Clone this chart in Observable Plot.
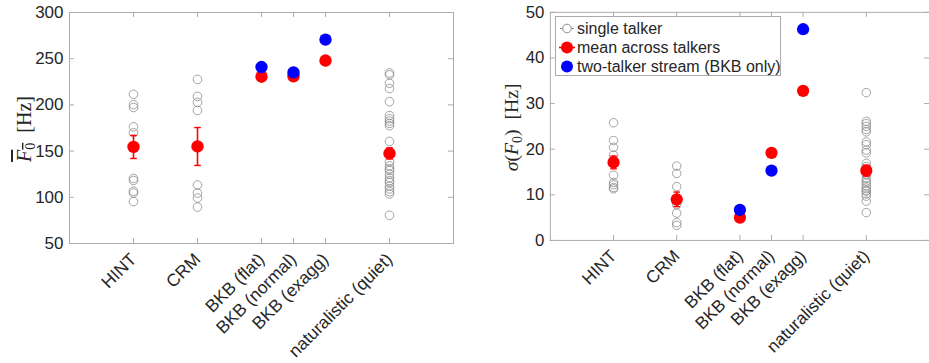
<!DOCTYPE html>
<html>
<head>
<meta charset="utf-8">
<script src="https://cdn.jsdelivr.net/npm/d3@7"></script>
<script src="https://cdn.jsdelivr.net/npm/@observablehq/plot@0.6"></script>
<style>
  body { margin: 0; background: #fff; }
  #fig { position: relative; width: 929px; height: 363px; overflow: hidden;
         font-family: "Liberation Sans", Arial, Helvetica, sans-serif; }
  #left { position: absolute; left: 0; top: 0; }
  #right { position: absolute; left: 460px; top: 0; }
  #legend { position: absolute; left: 555px; top: 16px; width: 226px; height: 60px;
            border: 1px solid #ababab; background: #fff; box-sizing: border-box; }
  .lrow { position: absolute; left: 0; height: 19px; width: 224px; }
  .lrow svg { position: absolute; left: 0; top: 0; }
  .lrow span { position: absolute; left: 21px; top: 0; line-height: 19px;
               font-size: 16px; color: #262626; white-space: nowrap; }
</style>
</head>
<body>
<div id="fig">
  <div id="left"></div>
  <div id="right"></div>
  <div id="legend"></div>
</div>
<script>
// Stimulus sets and their x positions on the category axis
const categories = ["HINT", "CRM", "BKB (flat)", "BKB (normal)", "BKB (exagg)", "naturalistic (quiet)"];
const categoryX = [1, 2, 3, 3.5, 4, 5];

// Mean F0 of each single talker (Hz)
const hintMeanF0 = [211.5, 200.2, 197.2, 176.3, 169.8, 120.4, 118.2, 106.6, 104.6, 95.4];
const crmMeanF0 = [227.6, 209.2, 202.7, 194.0, 113.3, 104.6, 99.2, 89.4];
const naturalMeanF0 = [234.6, 232.5, 223.5, 217.7, 203.5, 188.5, 185.0, 182.5, 180.0, 177.5,
                       160.5, 138.5, 134.0, 131.0, 129.0, 125.0, 121.0, 118.0, 116.0, 112.0,
                       109.0, 106.0, 103.5, 80.5];

// F0 standard deviation of each single talker (Hz)
const hintSdF0 = [25.8, 21.9, 20.4, 18.7, 17.6, 14.3, 12.7, 12.2, 11.6, 11.3];
const crmSdF0 = [16.3, 14.7, 11.8, 8.5, 7.8, 6.0, 3.9, 3.3];
const naturalSdF0 = [32.4, 26.1, 25.6, 25.0, 24.3, 23.8, 21.6, 21.0, 19.8, 19.2,
                     16.9, 16.2, 14.4, 13.6, 13.0, 12.6, 12.0, 11.5, 11.0, 10.8,
                     10.2, 9.7, 8.6, 6.1];

// Mean across talkers and its error (null = no error bar), one per category
const meanF0AcrossTalkers = [154.5, 155.0, 230.5, 231.0, 248.0, 147.5];
const meanF0Error = [12.5, 20.5, null, null, null, 6.0];
const sdF0AcrossTalkers = [17.1, 9.0, 5.0, 19.2, 32.8, 15.3];
const sdF0Error = [1.4, 1.6, null, null, null, 1.2];

// Two-talker stream (BKB sets only)
const streamCategories = ["BKB (flat)", "BKB (normal)", "BKB (exagg)"];
const streamMeanF0 = [241.0, 235.2, 270.6];
const streamSdF0 = [6.7, 15.3, 46.3];

// Axis ticks
const meanF0Ticks = [50, 100, 150, 200, 250, 300];
const sdF0Ticks = [0, 10, 20, 30, 40, 50];

const xOf = Object.fromEntries(categories.map((c, i) => [c, categoryX[i]]));
const RED = "#ff0000", BLUE = "#0000ff", RING = "#8c8c8c", FRAME = "#ababab", INK = "#262626";

// Horizontal bar symbol for error-bar caps
const capSymbol = {
  draw(context, size) {
    const w = Math.sqrt(size) / 1.6;
    context.moveTo(-w, 0);
    context.lineTo(w, 0);
  }
};

function panel({singles, means, errors, stream, yDomain, yTicks, marginLeft, width}) {
  const marginTop = 12, marginBottom = 120, height = 363;
  const frameW = 384, frameH = height - marginTop - marginBottom;

  const singleRows = singles.flatMap(([cat, vals]) => vals.map(v => ({x: xOf[cat], v})));
  const meanRows = categories.map((c, i) => ({x: categoryX[i], v: means[i], e: errors[i]}));
  const errRows = meanRows.filter(d => d.e != null);
  const streamRows = streamCategories.map((c, i) => ({x: xOf[c], v: stream[i]}));

  return Plot.plot({
    width, height, marginLeft, marginRight: width - marginLeft - frameW, marginTop, marginBottom,
    style: {fontFamily: '"Liberation Sans", Arial, Helvetica, sans-serif', background: "transparent"},
    x: {domain: [0, 6]},
    y: {domain: yDomain},
    marks: [
      Plot.frame({stroke: FRAME}),
      // inward ticks on all four sides
      Plot.tickY(yTicks, {y: d => d, stroke: FRAME, insetRight: frameW - 5}),
      Plot.tickY(yTicks, {y: d => d, stroke: FRAME, insetLeft: frameW - 5}),
      Plot.tickX(categoryX, {x: d => d, stroke: FRAME, insetTop: frameH - 5}),
      Plot.tickX(categoryX, {x: d => d, stroke: FRAME, insetBottom: frameH - 5}),
      Plot.axisY({ticks: yTicks, tickSize: 0, tickPadding: 6, label: null, fontSize: 17, fill: INK}),
      Plot.axisX({ticks: categoryX, tickSize: 0, tickPadding: 13, tickRotate: -45, label: null,
                  fontSize: 17.5, fill: INK,
                  tickFormat: d => categories[categoryX.indexOf(d)]}),
      Plot.dot(singleRows, {x: "x", y: "v", r: 4.3, stroke: RING, strokeWidth: 0.8, fill: "none"}),
      Plot.ruleX(errRows, {x: "x", y1: d => d.v - d.e, y2: d => d.v + d.e, stroke: RED, strokeWidth: 1.6}),
      Plot.dot(errRows, {x: "x", y: d => d.v - d.e, symbol: capSymbol, r: 3, stroke: RED, strokeWidth: 1.4}),
      Plot.dot(errRows, {x: "x", y: d => d.v + d.e, symbol: capSymbol, r: 3, stroke: RED, strokeWidth: 1.4}),
      Plot.dot(meanRows, {x: "x", y: "v", r: 6.2, fill: RED}),
      Plot.dot(streamRows, {x: "x", y: "v", r: 6.2, fill: BLUE})
    ]
  });
}

const left = panel({
  singles: [["HINT", hintMeanF0], ["CRM", crmMeanF0], ["naturalistic (quiet)", naturalMeanF0]],
  means: meanF0AcrossTalkers, errors: meanF0Error, stream: streamMeanF0,
  yDomain: [50, 300], yTicks: meanF0Ticks, marginLeft: 69, width: 460
});
const right = panel({
  singles: [["HINT", hintSdF0], ["CRM", crmSdF0], ["naturalistic (quiet)", naturalSdF0]],
  means: sdF0AcrossTalkers, errors: sdF0Error, stream: streamSdF0,
  yDomain: [0, 50], yTicks: sdF0Ticks, marginLeft: 91, width: 475
});
document.getElementById("left").appendChild(left);
document.getElementById("right").appendChild(right);

// Math-style y-axis titles
const serif = '"Liberation Serif", "DejaVu Serif", "Times New Roman", serif';
function yTitle(svg, x, y, build) {
  const t = d3.select(svg).append("text")
    .attr("transform", `translate(${x},${y}) rotate(-90)`)
    .attr("text-anchor", "middle")
    .attr("fill", INK)
    .style("font-family", serif)
    .style("font-size", "20px");
  build(t);
}
yTitle(left, 31, 129, t => {
  const over = t.append("tspan").style("text-decoration", "overline");
  over.append("tspan").style("font-style", "italic").text("F");
  over.append("tspan").attr("dy", 4).style("font-size", "14px").text("0");
  t.append("tspan").attr("dy", -4).text("\u2002[Hz]");
});
yTitle(right, 59, 129, t => {
  t.append("tspan").style("font-style", "italic").text("\u03c3");
  t.append("tspan").text("(");
  t.append("tspan").style("font-style", "italic").text("F");
  t.append("tspan").attr("dy", 4).style("font-size", "14px").text("0");
  t.append("tspan").attr("dy", -4).text(")\u2002[Hz]");
});

// Legend
const legendItems = [
  {label: "single talker", kind: "ring"},
  {label: "mean across talkers", kind: "mean"},
  {label: "two-talker stream (BKB only)", kind: "stream"}
];
const legend = d3.select("#legend");
legendItems.forEach((item, i) => {
  const row = legend.append("div").attr("class", "lrow").style("top", `${2 + i * 19}px`);
  const s = row.append("svg").attr("width", 22).attr("height", 19);
  if (item.kind === "ring") {
    s.append("line").attr("x1", 4).attr("x2", 18).attr("y1", 9.5).attr("y2", 9.5).attr("stroke", RING);
    s.append("circle").attr("cx", 11).attr("cy", 9.5).attr("r", 4.3).attr("fill", "#fff").attr("stroke", RING);
  } else if (item.kind === "mean") {
    s.append("line").attr("x1", 3).attr("x2", 19).attr("y1", 9.5).attr("y2", 9.5).attr("stroke", RED).attr("stroke-width", 1.6);
    s.append("circle").attr("cx", 11).attr("cy", 9.5).attr("r", 6).attr("fill", RED);
  } else {
    s.append("circle").attr("cx", 11).attr("cy", 9.5).attr("r", 6).attr("fill", BLUE);
  }
  row.append("span").text(item.label);
});
</script>
</body>
</html>
